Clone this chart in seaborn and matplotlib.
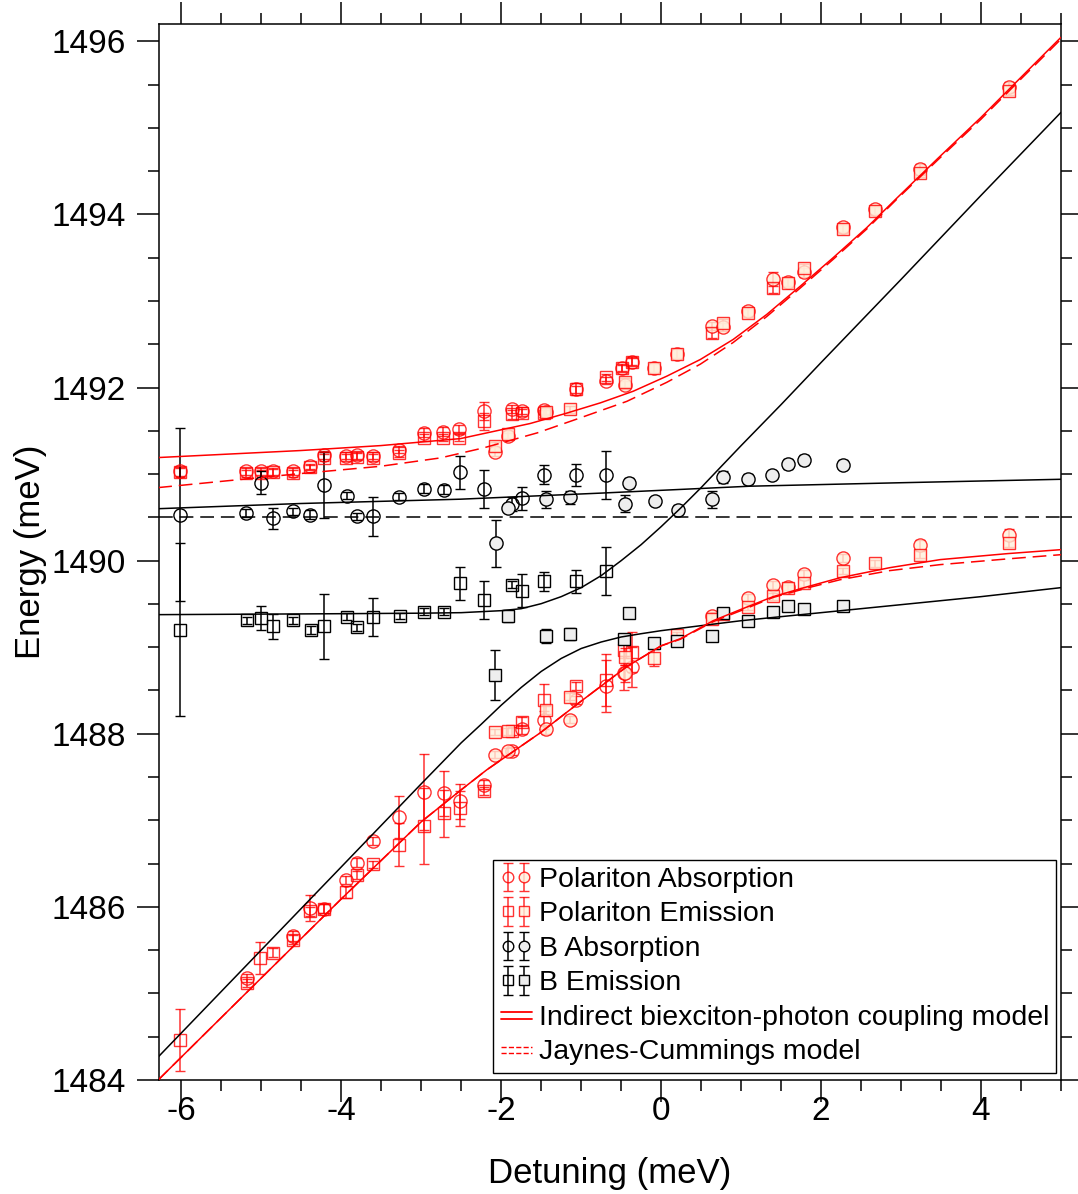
import matplotlib
matplotlib.use("Agg")
import matplotlib.pyplot as plt
import pandas as pd
import seaborn as sns
from matplotlib.legend_handler import HandlerBase, HandlerTuple
from matplotlib.lines import Line2D
from matplotlib.ticker import MultipleLocator

# ---------------- model curves ----------------
# biexciton (B) / photon anticrossing, black
b_up_x = [-6.29, -4.0, -3.0, -2.5, -2.0, -1.75, -1.5, -1.25, -1.0, -0.75, -0.5, -0.25, 0.0, 0.25, 0.5, 0.75, 1.0,
          1.5, 2.0, 3.0, 4.0, 5.0]
b_up_y = [1489.376, 1489.387, 1489.393, 1489.399, 1489.422, 1489.445, 1489.503, 1489.584, 1489.688, 1489.827,
          1490.000, 1490.185, 1490.393, 1490.613, 1490.844, 1491.087, 1491.329, 1491.803, 1492.289, 1493.249,
          1494.220, 1495.179]
b_lo_x = [-6.29, -5.0, -4.0, -3.0, -2.5, -2.25, -2.0, -1.75, -1.5, -1.25, -1.0, -0.75, -0.5, -0.25, 0.0, 0.5, 1.0,
          1.5, 2.5, 4.0, 5.0]
b_lo_y = [1484.266, 1485.503, 1486.462, 1487.422, 1487.896, 1488.110, 1488.330, 1488.535, 1488.720, 1488.870,
          1488.985, 1489.060, 1489.118, 1489.156, 1489.191, 1489.249, 1489.306, 1489.353, 1489.445, 1489.584,
          1489.688]
b_flat_x = [-6.29, -4.51, -2.51, -0.76, 1.11, 2.99, 5.0]
b_flat_y = [1490.60, 1490.66, 1490.71, 1490.78, 1490.86, 1490.90, 1490.94]
b_level = 1490.5

# polariton branches, red: indirect coupling model (solid) and Jaynes-Cummings (dashed)
up_x = [-6.29, -4.51, -3.51, -2.51, -1.64, -1.2, -0.76, -0.35, 0.07, 0.49, 0.90, 1.32, 1.74, 2.15, 2.57, 2.93,
        3.46, 4.0, 4.5, 5.0]
up_y = [1491.191, 1491.272, 1491.329, 1491.410, 1491.584, 1491.699, 1491.823, 1491.957, 1492.131, 1492.324,
        1492.555, 1492.844, 1493.171, 1493.499, 1493.846, 1494.173, 1494.647, 1495.121, 1495.584, 1496.046]
up_jc_x = [-6.29, -4.51, -3.51, -2.76, -2.22, -1.55, -1.01, -0.43, 0.07, 0.49, 0.90, 1.32, 1.74, 2.15, 2.57, 2.93,
           3.46, 4.0, 4.5, 5.0]
up_jc_y = [1490.844, 1491.006, 1491.09, 1491.187, 1491.303, 1491.476, 1491.650, 1491.84, 1492.06, 1492.27,
           1492.52, 1492.82, 1493.15, 1493.48, 1493.83, 1494.16, 1494.63, 1495.10, 1495.565, 1496.025]
lp_x = [-6.29, -5.0, -4.0, -3.0, -2.5, -2.18, -1.51, -1.01, -0.43, 0.0, 0.24, 0.65, 0.99, 1.4, 1.83, 2.24, 2.86,
        3.49, 4.33, 5.0]
lp_y = [1484.0, 1485.179, 1486.092, 1486.983, 1487.353, 1487.584, 1488.012, 1488.370, 1488.775, 1489.017, 1489.098,
        1489.306, 1489.434, 1489.584, 1489.699, 1489.803, 1489.919, 1490.012, 1490.081, 1490.127]
lp_jc_x = [-6.29, -5.0, -4.0, -3.0, -2.5, -2.18, -1.51, -1.01, -0.43, 0.0, 0.24, 0.65, 0.99, 1.4, 1.83, 2.24, 2.86,
           3.49, 4.33, 5.0]
lp_jc_y = [1484.0, 1485.179, 1486.092, 1486.983, 1487.353, 1487.584, 1488.012, 1488.370, 1488.775, 1489.015,
           1489.092, 1489.295, 1489.420, 1489.575, 1489.685, 1489.780, 1489.885, 1489.954, 1490.020, 1490.069]

# ---------------- measured points ----------------
# Polariton absorption, open circles
pa_open_x = [-6.02, -5.19, -5.01, -4.85, -4.60, -4.39, -4.22, -3.94, -3.80, -3.61, -3.28, -2.97, -2.73, -2.53, -2.22,
             -1.87, -1.74, -1.46, -1.07, -0.69, -0.49, -0.37,
             -5.18, -4.60, -4.39, -4.22, -3.94, -3.81, -3.60, -3.28, -2.97, -2.72, -2.51, -2.22, -1.87, -1.74,
             -1.46, -1.07, -0.69, -0.47, -0.37]
pa_open_y = [1491.03, 1491.03, 1491.03, 1491.03, 1491.03, 1491.09, 1491.22, 1491.21, 1491.22, 1491.21, 1491.28, 1491.48,
             1491.49, 1491.52, 1491.73, 1491.75, 1491.73, 1491.74, 1491.98, 1492.08, 1492.22, 1492.30,
             1485.18, 1485.66, 1485.99, 1485.98, 1486.31, 1486.51, 1486.76, 1487.04, 1487.33, 1487.31, 1487.22,
             1487.41, 1487.80, 1488.05, 1488.16, 1488.39, 1488.55, 1488.70, 1488.77]
pa_open_err = [0.05, 0.04, 0.04, 0.04, 0.04, 0.03, 0.05, 0.04, 0.04, 0.04, 0.04, 0.05, 0.05, 0.05, 0.10,
               0.05, 0.04, 0.05, 0.07, 0.04, 0.04, 0.05,
               0.05, 0.06, 0.15, 0.05, 0.05, 0.05, 0.05, 0.24, 0.44, 0.26, 0.20, 0.05, 0.05, 0.05,
               0.10, 0.05, 0.30, 0.20, 0.23]
# Polariton absorption, filled circles
pa_fill_x = [-2.08, -1.92, -1.44, -0.45, -0.09, 0.20, 0.63, 0.77, 1.08, 1.40, 1.59, 1.79, 2.28, 2.68, 3.24, 4.35,
             -2.08, -1.92, -1.44, -1.14, -0.45, 0.63, 1.08, 1.40, 1.59, 1.79, 2.28, 3.24, 4.35]
pa_fill_y = [1491.26, 1491.44, 1491.72, 1492.03, 1492.22, 1492.39, 1492.71, 1492.70, 1492.88, 1493.25, 1493.22, 1493.33,
             1493.85, 1494.06, 1494.52, 1495.47,
             1487.76, 1487.80, 1488.05, 1488.16, 1488.70, 1489.36, 1489.57, 1489.72, 1489.70, 1489.84, 1490.03,
             1490.18, 1490.30]
pa_fill_err = [0.05, 0.04, 0.04, 0.05, 0.05, 0.05, 0.05, 0.05, 0.05, 0.08, 0.05, 0.05, 0.05, 0.05, 0.06, 0.06,
               0.04, 0.04, 0.05, 0.04, 0.10, 0.05, 0.04, 0.05, 0.04, 0.05, 0.05, 0.06, 0.06]

# Polariton emission, open squares
pe_open_x = [-6.02, -5.19, -5.01, -4.85, -4.60, -4.39, -4.22, -3.94, -3.80, -3.61, -3.28, -2.97, -2.73, -2.53, -2.22,
             -1.87, -1.74, -1.46, -1.07, -0.69, -0.49, -0.37, 0.63, 1.40,
             -6.02, -5.18, -5.02, -4.86, -4.60, -4.39, -4.22, -3.94, -3.81, -3.60, -3.28, -2.97, -2.72, -2.51,
             -2.22, -1.87, -1.74, -1.46, -1.07, -0.69, -0.47, -0.37]
pe_open_y = [1491.02, 1491.01, 1491.01, 1491.02, 1491.01, 1491.08, 1491.19, 1491.19, 1491.20, 1491.19, 1491.24, 1491.42,
             1491.42, 1491.42, 1491.61, 1491.69, 1491.71, 1491.70, 1491.98, 1492.12, 1492.23, 1492.30, 1492.63, 1493.15,
             1484.46, 1485.12, 1485.41, 1485.47, 1485.62, 1485.95, 1485.98, 1486.17, 1486.37, 1486.49, 1486.72,
             1486.93, 1487.08, 1487.14, 1487.34, 1488.03, 1488.14, 1488.39, 1488.55, 1488.62, 1488.97, 1488.94]
pe_open_err = [0.05, 0.04, 0.04, 0.04, 0.04, 0.03, 0.04, 0.04, 0.04, 0.04, 0.04, 0.04, 0.04, 0.04, 0.10,
               0.05, 0.04, 0.04, 0.04, 0.04, 0.04, 0.04, 0.06, 0.06,
               0.36, 0.05, 0.18, 0.05, 0.05, 0.05, 0.05, 0.07, 0.05, 0.04, 0.25, 0.44, 0.27, 0.20,
               0.05, 0.05, 0.05, 0.18, 0.05, 0.30, 0.10, 0.23]
# Polariton emission, filled squares
pe_fill_x = [-2.08, -1.92, -1.44, -1.14, -0.45, -0.09, 0.20, 0.77, 1.08, 1.59, 1.79, 2.28, 2.68, 3.24, 4.35,
             -2.08, -1.92, -1.44, -1.14, -0.45, -0.09, 0.20, 0.63, 0.77, 1.08, 1.40, 1.59, 1.79, 2.28, 2.68, 3.24, 4.35]
pe_fill_y = [1491.32, 1491.46, 1491.72, 1491.75, 1492.06, 1492.23, 1492.39, 1492.74, 1492.86, 1493.21, 1493.38, 1493.83,
             1494.04, 1494.48, 1495.43,
             1488.02, 1488.03, 1488.28, 1488.43, 1488.89, 1488.88, 1489.14, 1489.32, 1489.38, 1489.47, 1489.59,
             1489.68, 1489.74, 1489.88, 1489.97, 1490.07, 1490.20]
pe_fill_err = [0.05, 0.04, 0.04, 0.04, 0.05, 0.05, 0.05, 0.05, 0.05, 0.05, 0.05, 0.05, 0.05, 0.05, 0.05,
               0.04, 0.04, 0.05, 0.04, 0.10, 0.10, 0.04, 0.05, 0.04, 0.04, 0.04, 0.04, 0.04, 0.04, 0.04, 0.04, 0.04]

# B absorption, open / filled circles
ba_open_x = [-6.02, -5.19, -5.01, -4.85, -4.60, -4.39, -4.22, -3.93, -3.81, -3.60, -3.28, -2.97, -2.72, -2.51, -2.22,
             -1.87, -1.74, -1.46, -1.06, -0.69]
ba_open_y = [1490.53, 1490.55, 1490.90, 1490.49, 1490.57, 1490.53, 1490.87, 1490.75, 1490.51, 1490.51, 1490.74, 1490.83,
             1490.82, 1491.02, 1490.83, 1490.65, 1490.72, 1490.99, 1490.99, 1490.99]
ba_open_err = [1.0, 0.05, 0.13, 0.12, 0.04, 0.05, 0.38, 0.04, 0.04, 0.22, 0.04, 0.05, 0.05, 0.19, 0.22,
               0.08, 0.13, 0.11, 0.13, 0.28]
ba_fill_x = [-2.07, -1.92, -1.44, -1.14, -0.45, -0.40, -0.08, 0.21, 0.63, 0.77, 1.08, 1.39, 1.59, 1.79, 2.28]
ba_fill_y = [1490.20, 1490.61, 1490.71, 1490.73, 1490.66, 1490.90, 1490.69, 1490.59, 1490.71, 1490.97, 1490.94, 1490.99,
             1491.12, 1491.16, 1491.11]
ba_fill_err = [0.27, 0.05, 0.10, 0.08, 0.10, 0.06, 0.05, 0.05, 0.10, 0.07, 0.06, 0.04, 0.06, 0.06, 0.05]

# B emission, open / filled squares
be_open_x = [-6.02, -5.18, -5.01, -4.85, -4.60, -4.38, -4.22, -3.93, -3.81, -3.60, -3.27, -2.97, -2.72, -2.51, -2.22,
             -1.87, -1.74, -1.46, -1.07, -0.69]
be_open_y = [1489.20, 1489.31, 1489.34, 1489.24, 1489.31, 1489.20, 1489.24, 1489.35, 1489.23, 1489.35, 1489.36, 1489.41,
             1489.41, 1489.74, 1489.55, 1489.72, 1489.65, 1489.76, 1489.76, 1489.88]
be_open_err = [1.0, 0.04, 0.14, 0.14, 0.04, 0.05, 0.38, 0.04, 0.04, 0.22, 0.04, 0.04, 0.04, 0.19, 0.22,
               0.04, 0.19, 0.11, 0.13, 0.28]
be_fill_x = [-2.08, -1.92, -1.44, -1.14, -0.47, -0.40, -0.09, 0.20, 0.63, 0.77, 1.09, 1.40, 1.59, 1.79, 2.28]
be_fill_y = [1488.68, 1489.36, 1489.13, 1489.15, 1489.09, 1489.40, 1489.05, 1489.07, 1489.13, 1489.40, 1489.30, 1489.41,
             1489.48, 1489.44, 1489.48]
be_fill_err = [0.29, 0.07, 0.08, 0.07, 0.05, 0.03, 0.04, 0.04, 0.04, 0.04, 0.04, 0.04, 0.04, 0.03, 0.05]

RED = "#ff0000"
RED_FILL = "#fff0dc"
GREY_FILL = "#eeeeee"
DASH = (0, (9, 4.5))

sns.set_theme(style="ticks", rc={"axes.edgecolor": "black", "xtick.color": "black", "ytick.color": "black",
                                 "text.color": "black", "axes.labelcolor": "black", "axes.unicode_minus": False})
plt.rcParams["font.family"] = ["Liberation Sans", "DejaVu Sans"]

fig = plt.figure(figsize=(10.78, 11.94), dpi=100)
ax = fig.add_axes([0.1475, 0.0955, 0.8367, 0.8844])


def points(x, y, err, marker, edge, face, ms, alpha=1.0):
    return ax.errorbar(x, y, yerr=err, fmt=marker, ms=ms, mfc=face, mec=edge, mew=1.0, ecolor=edge,
                       elinewidth=1.1, capsize=3.8, capthick=1.1, alpha=alpha, zorder=2)


pa_o = points(pa_open_x, pa_open_y, pa_open_err, "o", RED, "none", 9.5, 0.8)
pa_f = points(pa_fill_x, pa_fill_y, pa_fill_err, "o", RED, RED_FILL, 9.5, 0.8)
pe_o = points(pe_open_x, pe_open_y, pe_open_err, "s", RED, "none", 8.5, 0.8)
pe_f = points(pe_fill_x, pe_fill_y, pe_fill_err, "s", RED, RED_FILL, 8.5, 0.8)
ba_o = points(ba_open_x, ba_open_y, ba_open_err, "o", "black", "none", 9.5)
ba_f = points(ba_fill_x, ba_fill_y, ba_fill_err, "o", "black", GREY_FILL, 9.5)
be_o = points(be_open_x, be_open_y, be_open_err, "s", "black", "none", 8.5)
be_f = points(be_fill_x, be_fill_y, be_fill_err, "s", "black", GREY_FILL, 8.5)

curves = [
    (b_up_x, b_up_y, "black", "-"),
    (b_lo_x, b_lo_y, "black", "-"),
    (b_flat_x, b_flat_y, "black", "-"),
    (up_x, up_y, RED, "-"),
    (up_jc_x, up_jc_y, RED, DASH),
    (lp_x, lp_y, RED, "-"),
    (lp_jc_x, lp_jc_y, RED, DASH),
]
for cx, cy, col, ls in curves:
    df = pd.DataFrame({"det": cx, "energy": cy})
    sns.lineplot(data=df, x="det", y="energy", color=col, linestyle=ls, lw=1.1, ax=ax,
                 estimator=None, sort=False, legend=False, zorder=3)
ax.axhline(b_level, color="black", linestyle=DASH, lw=1.1, zorder=3)

ax.set_xlim(-6.28, 5.0)
ax.set_ylim(1484, 1496.2)
ax.xaxis.set_major_locator(MultipleLocator(2))
ax.xaxis.set_minor_locator(MultipleLocator(0.5))
ax.yaxis.set_major_locator(MultipleLocator(2))
ax.yaxis.set_minor_locator(MultipleLocator(0.5))
ax.tick_params(which="both", direction="out", top=True, right=True, width=1.1, labelsize=24)
ax.tick_params(which="major", length=15.8)
ax.tick_params(which="minor", length=7.9)
ax.tick_params(axis="y", pad=8)
ax.tick_params(axis="x", pad=-4)
for sp in ax.spines.values():
    sp.set_linewidth(1.1)
ax.set_xlabel("Detuning (meV)", fontsize=25, labelpad=21)
ax.set_ylabel("Energy (meV)", fontsize=25, labelpad=3)


class DoubleLine(HandlerBase):
    # legend key drawn as two thin parallel lines
    def create_artists(self, legend, orig_handle, xdescent, ydescent, width, height, fontsize, trans):
        arts = []
        for frac in (0.3, 0.65):
            ln = Line2D([-xdescent, -xdescent + width], [height * frac - ydescent] * 2,
                        color=orig_handle.get_color(), lw=orig_handle.get_linewidth(), transform=trans)
            ln.set_linestyle(orig_handle.get_linestyle())
            arts.append(ln)
        return arts


solid_key = Line2D([], [], color=RED, lw=1.3)
dash_key = Line2D([], [], color=RED, lw=1.0, linestyle=(0, (1.5, 1)))
handles = [(pa_o, pa_f), (pe_o, pe_f), (ba_o, ba_f), (be_o, be_f), solid_key, dash_key]
labels = ["Polariton Absorption", "Polariton Emission", "B Absorption", "B Emission",
          "Indirect biexciton-photon coupling model", "Jaynes-Cummings model"]
leg = ax.legend(handles, labels, loc="lower right", bbox_to_anchor=(0.995, 0.007), borderaxespad=0,
                fontsize=20.5, handlelength=1.1, handletextpad=0.25, labelspacing=0.3, borderpad=0.25,
                markerscale=0.8, fancybox=False, framealpha=1, edgecolor="black",
                handler_map={tuple: HandlerTuple(ndivide=None, pad=0.05),
                             solid_key: DoubleLine(), dash_key: DoubleLine()})
leg.get_frame().set_linewidth(1.0)

fig.savefig("out.png", dpi=100)
